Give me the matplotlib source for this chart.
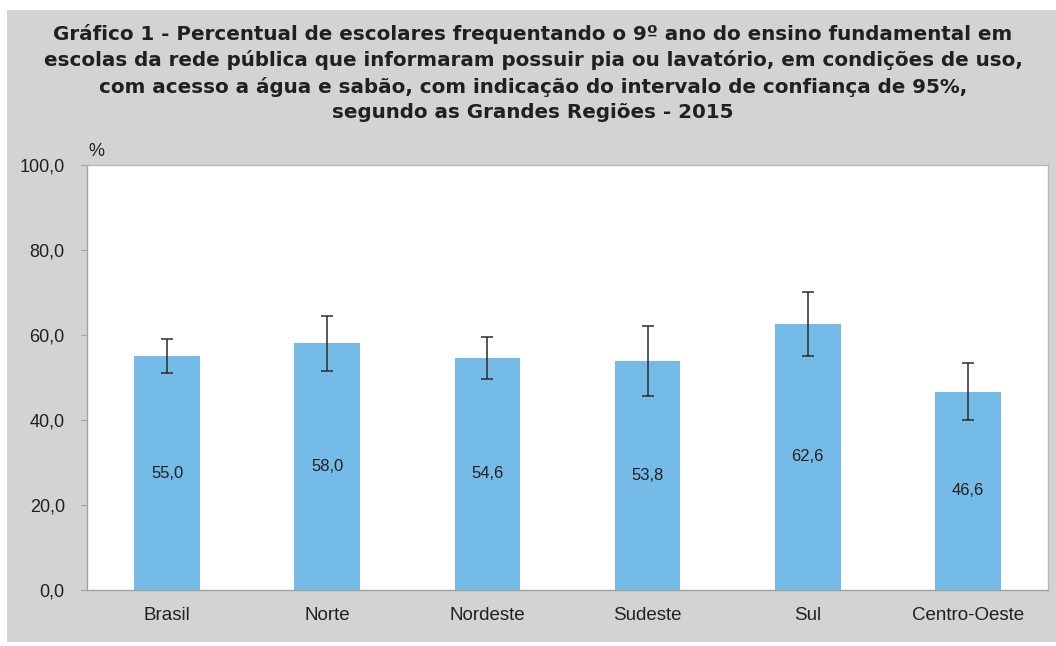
import matplotlib
matplotlib.use("Agg")
import matplotlib.pyplot as plt
from matplotlib.patches import Rectangle

categories = ["Brasil", "Norte", "Nordeste", "Sudeste", "Sul", "Centro-Oeste"]
values = [55.0, 58.0, 54.6, 53.8, 62.6, 46.6]
ci_lower = [51.0, 51.6, 49.6, 45.6, 55.1, 39.9]
ci_upper = [59.0, 64.4, 59.6, 62.0, 70.1, 53.3]
value_labels = ["55,0", "58,0", "54,6", "53,8", "62,6", "46,6"]
ytick_values = [0, 20, 40, 60, 80, 100]
ytick_labels = ["0,0", "20,0", "40,0", "60,0", "80,0", "100,0"]
title = ("Gráfico 1 - Percentual de escolares frequentando o 9º ano do ensino fundamental em\n"
         "escolas da rede pública que informaram possuir pia ou lavatório, em condições de uso,\n"
         "com acesso a água e sabão, com indicação do intervalo de confiança de 95%,\n"
         "segundo as Grandes Regiões - 2015")

plt.rcParams['font.family'] = ['Liberation Sans', 'DejaVu Sans']
txt = '#231f20'
bg = '#d2d3d5'

fig = plt.figure(figsize=(10.56, 6.46), dpi=100)
fig.patch.set_facecolor('white')
fig.patches.append(Rectangle((7/1056, 1-642/646), 1-7/1056, (642-10)/646,
                             transform=fig.transFigure, facecolor=bg, edgecolor='none', zorder=-10))

ax = fig.add_axes([87/1056, 1-590/646, (1048-87)/1056, (590-165)/646])
ax.set_facecolor('white')
x = list(range(len(categories)))
yerr = [[v - l for v, l in zip(values, ci_lower)], [u - v for v, u in zip(values, ci_upper)]]
ax.bar(x, values, width=0.41, color='#74bce7', zorder=2)
ax.errorbar(x, values, yerr=yerr, fmt='none', ecolor='#2b2b2b', elinewidth=1.1,
            capsize=4, capthick=1.1, zorder=3)
for xi, v, lab in zip(x, values, value_labels):
    ax.text(xi, v / 2, lab, ha='center', va='center', fontsize=12, color=txt, zorder=4)

ax.set_xlim(-0.5, len(categories) - 0.5)
ax.set_ylim(0, 100)
ax.set_yticks(ytick_values)
ax.set_yticklabels(ytick_labels, fontsize=13, color=txt)
ax.set_xticks(x)
ax.set_xticklabels(categories, fontsize=13.5, color=txt)
ax.tick_params(axis='x', length=0, pad=12)
ax.tick_params(axis='y', length=4, width=0.8, color='#a0a0a0', pad=12)
for s in ['left', 'bottom']:
    ax.spines[s].set_color('#a0a0a0')
    ax.spines[s].set_linewidth(1.0)
for s in ['top', 'right']:
    ax.spines[s].set_color('#b8b8b8')
    ax.spines[s].set_linewidth(1.0)

fig.text(96/1056, 1-151/646, "%", fontsize=13, color=txt, ha='center', va='center')
fig.text(533/1056, 1-73/646, title, fontsize=14.3, fontweight='bold', color=txt,
         ha='center', va='center', linespacing=1.42, family=['DejaVu Sans'])

fig.savefig("out.png", dpi=100, facecolor=fig.get_facecolor())
